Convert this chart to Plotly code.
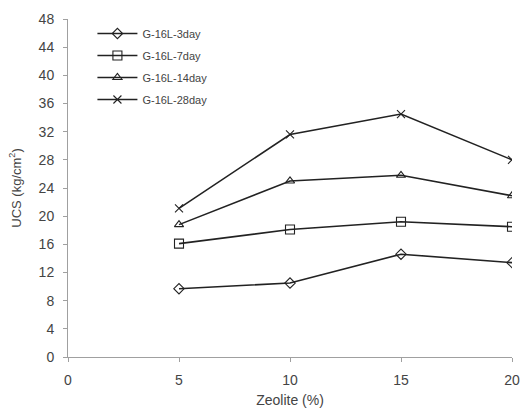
import plotly.graph_objects as go

# Zeolite content (%) and unconfined compressive strength (kg/cm²) by curing age
zeolite = [5, 10, 15, 20]
ucs_3day = [9.7, 10.5, 14.6, 13.4]
ucs_7day = [16.1, 18.1, 19.2, 18.5]
ucs_14day = [18.8, 25.0, 25.8, 22.9]
ucs_28day = [21.1, 31.6, 34.5, 28.0]

series_names = ["G-16L-3day", "G-16L-7day", "G-16L-14day", "G-16L-28day"]
x_ticks = [0, 5, 10, 15, 20]
y_ticks = [0, 4, 8, 12, 16, 20, 24, 28, 32, 36, 40, 44, 48]

series = [
    (series_names[0], ucs_3day, "diamond-open", 8),
    (series_names[1], ucs_7day, "square-open", 9),
    (series_names[2], ucs_14day, "triangle-up-open", 8),
    (series_names[3], ucs_28day, "x-thin-open", 8),
]

fig = go.Figure()
for name, vals, sym, size in series:
    fig.add_trace(go.Scatter(
        x=zeolite, y=vals, name=name, mode="lines+markers",
        legendgroup=name,
        line=dict(color="#222222", width=1.6),
        marker=dict(symbol=sym, size=size, color="#222222",
                    line=dict(color="#222222", width=1.1)),
    ))

axis_font = dict(family="Liberation Sans, Arial, sans-serif", size=13, color="#444444")

fig.update_layout(
    width=524, height=411,
    margin=dict(l=68, r=12, t=19, b=54),
    paper_bgcolor="white", plot_bgcolor="white",
    font=axis_font,
    showlegend=True,
    legend=dict(
        x=0.055, y=1.0, xanchor="left", yanchor="top",
        bgcolor="rgba(0,0,0,0)",
        font=dict(family="Liberation Sans, Arial, sans-serif", size=11, color="#444444"),
        itemwidth=40, tracegroupgap=3,
    ),
    xaxis=dict(
        range=[0, 20], tickvals=x_ticks, showgrid=False, zeroline=False,
        showline=True, linecolor="#a0a0a0", linewidth=1,
        ticks="outside", ticklen=4, tickcolor="#a0a0a0",
        ticklabelstandoff=6, automargin=False,
        tickfont=dict(size=14),
        title=dict(text="Zeolite (%)", font=dict(size=14, color="#444444"), standoff=8),
    ),
    yaxis=dict(
        range=[0, 48], tickvals=y_ticks, showgrid=False, zeroline=False,
        showline=True, linecolor="#a0a0a0", linewidth=1,
        ticks="outside", ticklen=4, tickcolor="#a0a0a0",
        ticklabelstandoff=6, automargin=False,
        tickfont=dict(size=14),
        title=dict(text="UCS (kg/cm<sup>2</sup>)", font=dict(size=13, color="#444444"), standoff=14),
    ),
)

fig.write_html("out.html")
